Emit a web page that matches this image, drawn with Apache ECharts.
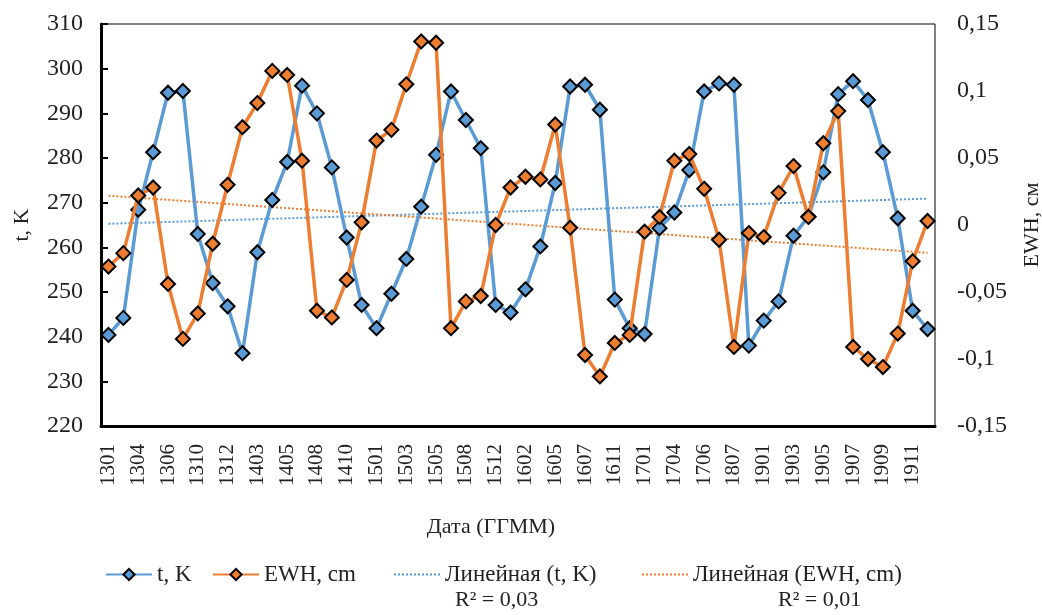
<!DOCTYPE html>
<html>
<head>
<meta charset="utf-8">
<script src="https://cdn.jsdelivr.net/npm/echarts@6/dist/echarts.min.js"></script>
<style>
  html, body { margin: 0; padding: 0; background: #fff; }
  #chart { width: 1042px; height: 615px; }
</style>
</head>
<body>
<div id="chart"></div>
<script>
// months (YYMM), every other one is labelled
var months = ['1301', '1302', '1304', '1305', '1306', '1307', '1310', '1311', '1312', '1401',
  '1403', '1404', '1405', '1406', '1408', '1409', '1410', '1411', '1501', '1502',
  '1503', '1504', '1505', '1506', '1508', '1509', '1512', '1601', '1602', '1603',
  '1605', '1606', '1607', '1608', '1611', '1612', '1701', '1702', '1704', '1705',
  '1706', '1806', '1807', '1808', '1901', '1902', '1903', '1904', '1905', '1906',
  '1907', '1908', '1909', '1910', '1911', '1912'];

var tempK = [240.4, 244.2, 268.4, 281.3, 294.6, 295.0, 263.0, 252.0, 246.8, 236.3,
  258.9, 270.6, 279.1, 296.2, 290.0, 277.9, 262.2, 247.1, 241.9, 249.6,
  257.4, 269.1, 280.7, 294.9, 288.5, 282.2, 247.1, 245.4, 250.6, 260.2,
  274.4, 296.0, 296.4, 290.8, 248.3, 241.9, 240.6, 264.3, 267.8, 277.3,
  294.9, 296.7, 296.4, 238.0, 243.6, 247.9, 262.6, 266.9, 276.8, 294.3,
  297.2, 293.0, 281.3, 266.5, 245.8, 241.7];

var ewh = [-0.031, -0.021, 0.022, 0.028, -0.044, -0.085, -0.066, -0.014, 0.030, 0.073,
  0.091, 0.115, 0.112, 0.048, -0.064, -0.069, -0.041, 0.002, 0.063, 0.071,
  0.105, 0.137, 0.136, -0.077, -0.057, -0.053, 0.000, 0.028, 0.036, 0.034,
  0.075, -0.002, -0.097, -0.113, -0.088, -0.082, -0.005, 0.006, 0.048, 0.053,
  0.027, -0.011, -0.091, -0.006, -0.009, 0.024, 0.044, 0.006, 0.061, 0.085,
  -0.091, -0.100, -0.106, -0.081, -0.027, 0.003];

var seriesNames = ['t, K', 'EWH, cm', 'Линейная (t, K)', 'Линейная (EWH, cm)'];
var r2Labels = ['R\u00b2 = 0,03', 'R\u00b2 = 0,01'];

// least squares trend over the point index, like excel's linear trendline
function linearTrend(vals) {
  var n = vals.length, sx = 0, sy = 0, sxx = 0, sxy = 0;
  for (var i = 0; i < n; i++) {
    sx += i; sy += vals[i]; sxx += i * i; sxy += i * vals[i];
  }
  var b = (n * sxy - sx * sy) / (n * sxx - sx * sx);
  var a = (sy - b * sx) / n;
  return vals.map(function (v, i) { return +(a + b * i).toFixed(5); });
}

var FONT = 'Liberation Serif';
var BLUE = '#5b9bd5';
var ORANGE = '#ed7d31';

// one legend per entry so each sits where excel put it
var legendLefts = [100, 207, 388, 636];
var legends = seriesNames.map(function (name, i) {
  var item = { name: name };
  if (i > 1) item.itemStyle = { opacity: 0 };
  return {
    left: legendLefts[i], top: 558,
    itemWidth: 46, itemHeight: 14,
    textStyle: { fontFamily: FONT, fontSize: 23, color: '#222' },
    data: [item]
  };
});

var chart = echarts.init(document.getElementById('chart'));

var option = {
  animation: false,
  textStyle: { fontFamily: FONT },
  grid: {
    left: 101, right: 107, top: 24, bottom: 189,
    outerBoundsMode: 'none',
    containLabel: false,
    show: true, borderColor: '#000', borderWidth: 1
  },
  legend: legends,
  graphic: [
    { type: 'text', left: 455, top: 589, style: { text: r2Labels[0], font: '22px "Liberation Serif"', fill: '#222' } },
    { type: 'text', left: 778, top: 589, style: { text: r2Labels[1], font: '22px "Liberation Serif"', fill: '#222' } }
  ],
  xAxis: {
    type: 'category',
    data: months,
    boundaryGap: true,
    name: 'Дата (ГГММ)',
    nameLocation: 'middle',
    nameGap: 90,
    nameTextStyle: { fontFamily: FONT, fontSize: 22, color: '#222', padding: [0, 54, 0, 0] },
    axisLine: { onZero: false, lineStyle: { color: '#000', width: 3 } },
    axisTick: { inside: true, length: 7, interval: 0, lineStyle: { color: '#000', width: 2 } },
    axisLabel: { interval: 1, rotate: 90, margin: 18, fontFamily: FONT, fontSize: 21, color: '#222' }
  },
  yAxis: [
    {
      type: 'value',
      min: 220, max: 310, interval: 10,
      name: 't, K',
      nameLocation: 'middle',
      nameGap: 68,
      nameRotate: 90,
      nameTextStyle: { fontFamily: FONT, fontSize: 22, color: '#222' },
      axisLine: { show: true, onZero: false, lineStyle: { color: '#000', width: 3 } },
      axisTick: { show: true, inside: true, length: 7, lineStyle: { color: '#000', width: 2 } },
      axisLabel: { margin: 18, fontFamily: FONT, fontSize: 24, color: '#222' },
      splitLine: { show: false }
    },
    {
      type: 'value',
      min: -0.15, max: 0.15, interval: 0.05,
      name: 'EWH, см',
      nameLocation: 'middle',
      nameGap: 86,
      nameRotate: 90,
      nameTextStyle: { fontFamily: FONT, fontSize: 22, color: '#222' },
      axisLine: { show: false },
      axisTick: { show: false },
      axisLabel: {
        margin: 22, fontFamily: FONT, fontSize: 24, color: '#222',
        formatter: function (v) { return String(+v.toFixed(2)).replace('.', ','); }
      },
      splitLine: { show: false }
    }
  ],
  series: [
    {
      name: seriesNames[0], type: 'line', yAxisIndex: 0, data: tempK,
      symbol: 'diamond', symbolSize: 14, showAllSymbol: true,
      lineStyle: { color: BLUE, width: 3.5 },
      itemStyle: { color: BLUE, borderColor: '#000', borderWidth: 2 },
      z: 3
    },
    {
      name: seriesNames[1], type: 'line', yAxisIndex: 1, data: ewh,
      symbol: 'diamond', symbolSize: 14, showAllSymbol: true,
      lineStyle: { color: ORANGE, width: 3.5 },
      itemStyle: { color: ORANGE, borderColor: '#000', borderWidth: 2 },
      z: 4
    },
    {
      name: seriesNames[2], type: 'line', yAxisIndex: 0, data: linearTrend(tempK),
      symbol: 'none',
      lineStyle: { color: BLUE, width: 2, type: 'dotted' },
      itemStyle: { color: BLUE },
      z: 2
    },
    {
      name: seriesNames[3], type: 'line', yAxisIndex: 1, data: linearTrend(ewh),
      symbol: 'none',
      lineStyle: { color: ORANGE, width: 2, type: 'dotted' },
      itemStyle: { color: ORANGE },
      z: 2
    }
  ]
};

option && chart.setOption(option);
</script>
</body>
</html>
